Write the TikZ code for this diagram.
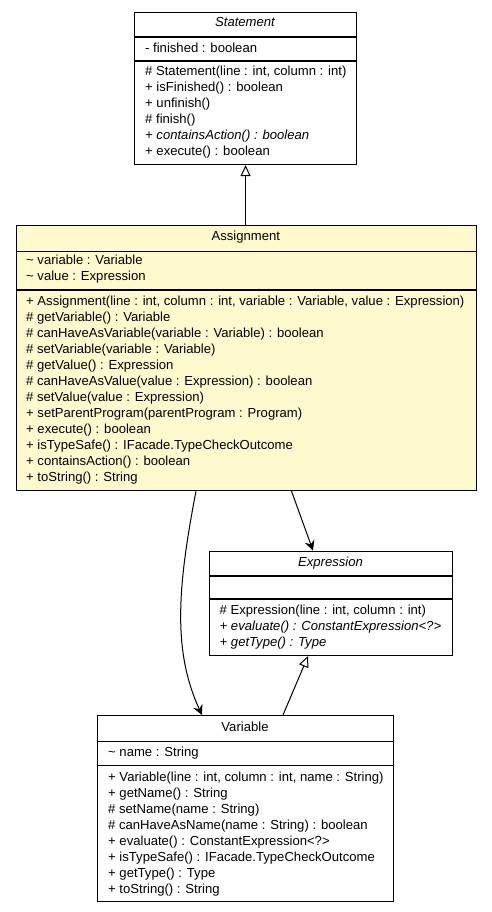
\documentclass[tikz,border=0pt]{standalone}
\usepackage{fontspec}
\setmainfont{Liberation Sans}
\usetikzlibrary{arrows.meta}
\definecolor{classfill}{HTML}{FFFACD}
\begin{document}
\begin{tikzpicture}[x=1pt,y=-1pt,
  box/.style={draw=black, line width=1.1pt, inner sep=0pt, anchor=north west},
  sepline/.style={line width=1.1pt},
  txt/.style={anchor=base west, inner sep=0pt, font=\fontsize{13.1}{16}\selectfont},
  ttl/.style={anchor=base, inner sep=0pt, font=\fontsize{13.1}{16}\selectfont},
  assoc/.style={line width=1pt, -{Stealth[length=10pt,width=10pt,inset=3.5pt]}},
  inherit/.style={line width=1pt, -{Triangle[open,length=11pt,width=10pt,fill=white]}}]
\useasboundingbox[fill=white] (0,0) rectangle (491,912);

% ---- Statement ----
\node[box, fill=white, minimum width=222pt, minimum height=152pt] (stmt) at (134,12) {};
\draw[sepline] ([yshift=-25pt]stmt.north west) -- ([yshift=-25pt]stmt.north east);
\draw[sepline] ([yshift=-49pt]stmt.north west) -- ([yshift=-49pt]stmt.north east);
\node[ttl] (stmtT) at (245,27) {\itshape Statement};
\node[txt] (stmtA) at (145,53) {- finished : boolean};
\foreach \t [count=\i] in {{\# Statement(line : int, column : int)},
  {+ isFinished() : boolean},{+ unfinish()},{\# finish()},
  {\itshape + containsAction() : boolean},{+ execute() : boolean}}
  \node[txt] (stmtM\i) at (145,{75.5+(\i-1)*16.1}) {\t};

% ---- Assignment ----
\node[box, fill=classfill, minimum width=460.5pt, minimum height=265pt] (assign) at (15.5,225) {};
\draw[sepline] ([yshift=-26.5pt]assign.north west) -- ([yshift=-26.5pt]assign.north east);
\draw[sepline] ([yshift=-65pt]assign.north west) -- ([yshift=-65pt]assign.north east);
\node[ttl] (assignT) at (245.75,240.5) {Assignment};
\node[txt] (assignA1) at (26,264.5) {\textasciitilde{} variable : Variable};
\node[txt] (assignA2) at (26,280.5) {\textasciitilde{} value : Expression};
\foreach \t [count=\i] in {{+ Assignment(line : int, column : int, variable : Variable, value : Expression)},
  {\# getVariable() : Variable},
  {\# canHaveAsVariable(variable : Variable) : boolean},
  {\# setVariable(variable : Variable)},
  {\# getValue() : Expression},
  {\# canHaveAsValue(value : Expression) : boolean},
  {\# setValue(value : Expression)},
  {+ setParentProgram(parentProgram : Program)},
  {+ execute() : boolean},
  {+ isTypeSafe() : IFacade.TypeCheckOutcome},
  {+ containsAction() : boolean},
  {+ toString() : String}}
  \node[txt] (assignM\i) at (26,{305+(\i-1)*16}) {\t};

% ---- Expression ----
\node[box, fill=white, minimum width=243pt, minimum height=104.5pt] (expr) at (209,550.5) {};
\draw[sepline] ([yshift=-25.5pt]expr.north west) -- ([yshift=-25.5pt]expr.north east);
\draw[sepline] ([yshift=-48.5pt]expr.north west) -- ([yshift=-48.5pt]expr.north east);
\node[ttl] (exprT) at (330.5,566) {\itshape Expression};
\foreach \t [count=\i] in {{\# Expression(line : int, column : int)},
  {\itshape + evaluate() : ConstantExpression<?>},
  {\itshape + getType() : Type}}
  \node[txt] (exprM\i) at (219.5,{614.5+(\i-1)*16}) {\t};

% ---- Variable ----
\node[box, fill=white, minimum width=296pt, minimum height=186pt] (var) at (97,715) {};
\draw[sepline] ([yshift=-26.5pt]var.north west) -- ([yshift=-26.5pt]var.north east);
\draw[sepline] ([yshift=-50.5pt]var.north west) -- ([yshift=-50.5pt]var.north east);
\node[ttl] (varT) at (245,731) {Variable};
\node[txt] (varA) at (108,756) {\textasciitilde{} name : String};
\foreach \t [count=\i] in {{+ Variable(line : int, column : int, name : String)},
  {+ getName() : String},
  {\# setName(name : String)},
  {\# canHaveAsName(name : String) : boolean},
  {+ evaluate() : ConstantExpression<?>},
  {+ isTypeSafe() : IFacade.TypeCheckOutcome},
  {+ getType() : Type},
  {+ toString() : String}}
  \node[txt] (varM\i) at (108,{781+(\i-1)*16}) {\t};

% ---- connectors ----
\draw[inherit] (assign.north -| stmt.south) -- (stmt.south);
\draw[assoc] ([xshift=276pt]assign.south west) -- ([xshift=104pt]expr.north west);
\draw[assoc] ([xshift=180.5pt]assign.south west) .. controls (178,585) and (172,650) .. ([xshift=105pt]var.north west);
\draw[inherit] ([xshift=186pt]var.north west) -- ([xshift=99pt]expr.south west);
\end{tikzpicture}
\end{document}
